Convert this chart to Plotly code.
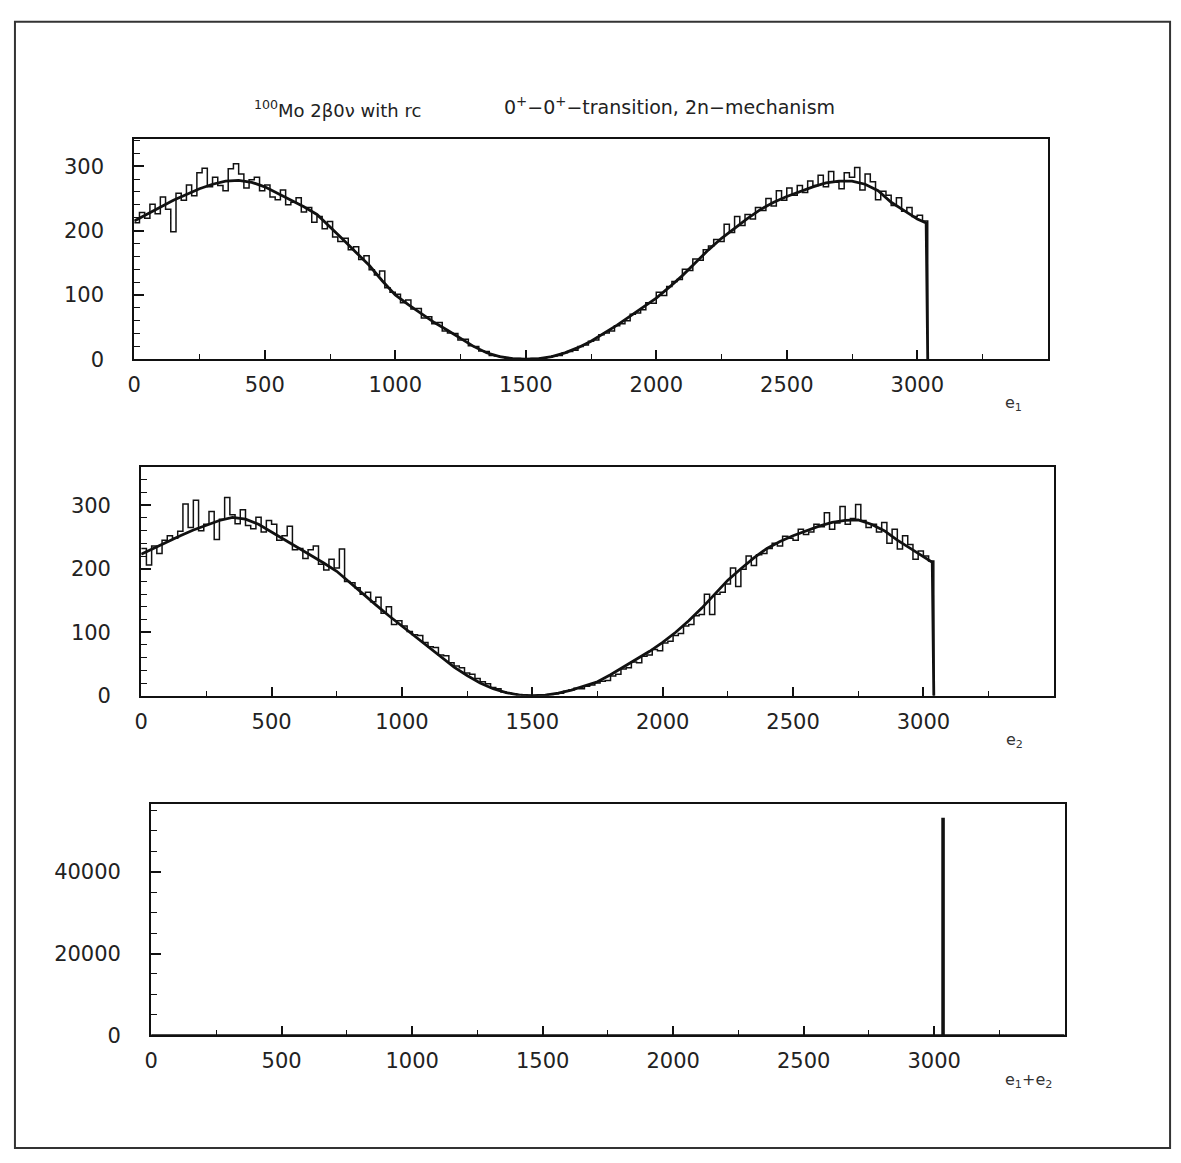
import plotly.graph_objects as go

# ---------------- data ----------------
BIN_WIDTH = 20  # keV

E1_COUNTS = [
    212, 228, 219, 241, 226, 252, 233, 198, 258, 247,
    271, 254, 290, 297, 268, 283, 270, 262, 296, 304,
    288, 266, 279, 283, 262, 271, 252, 248, 263, 240,
    244, 251, 229, 236, 213, 222, 203, 214, 190, 183,
    188, 170, 175, 155, 161, 139, 131, 137, 111, 104,
    101, 88, 92, 78, 79, 64, 66, 55, 57, 44,
    41, 40, 30, 31, 21, 20, 13, 12, 6, 5,
    3, 2, 1, 1, 0, 0, 1, 1, 2, 3,
    5, 6, 10, 12, 14, 20, 22, 28, 30, 38,
    41, 44, 52, 55, 60, 70, 72, 77, 88, 87,
    104, 99, 113, 121, 124, 140, 138, 156, 154, 170,
    176, 186, 183, 210, 197, 222, 208, 225, 218, 236,
    231, 250, 238, 262, 247, 266, 255, 270, 259, 277,
    270, 286, 268, 292, 275, 265, 290, 283, 298, 263,
    288, 276, 248, 261, 255, 239, 251, 230, 236, 222,
    224, 215,
]

E2_COUNTS = [
    232, 206, 236, 224, 245, 252, 248, 259, 302, 265,
    308, 260, 270, 290, 246, 278, 312, 285, 271, 293,
    268, 263, 281, 258, 276, 270, 245, 252, 267, 230,
    232, 216, 230, 236, 207, 198, 215, 201, 231, 180,
    178, 170, 160, 163, 148, 155, 130, 140, 112, 118,
    110, 101, 96, 95, 84, 77, 76, 64, 63, 52,
    47, 44, 36, 34, 27, 22, 19, 13, 11, 6,
    4, 3, 2, 1, 0, 0, 1, 1, 2, 3,
    4, 7, 9, 12, 11, 15, 17, 20, 23, 24,
    31, 34, 42, 44, 53, 52, 62, 64, 73, 71,
    83, 86, 95, 98, 110, 112, 126, 128, 160, 128,
    160, 163, 176, 201, 172, 199, 220, 205, 222, 224,
    232, 240, 236, 251, 248, 245, 262, 254, 258, 270,
    266, 288, 262, 272, 298, 270, 279, 301, 276, 265,
    270, 258, 273, 240, 262, 231, 252, 238, 215, 228,
    220, 212,
]

CURVE_X = [0, 50, 100, 150, 200, 250, 300, 350, 400, 450, 500, 550, 600, 650,
           700, 750, 800, 850, 900, 950, 1000, 1050, 1100, 1150, 1200, 1250,
           1300, 1350, 1400, 1450, 1500, 1550, 1600, 1650, 1700, 1750, 1800,
           1850, 1900, 1950, 2000, 2050, 2100, 2150, 2200, 2250, 2300, 2350,
           2400, 2450, 2500, 2550, 2600, 2650, 2700, 2750, 2800, 2850, 2900,
           2950, 3000, 3034, 3040]

E1_CURVE = [215, 226, 237, 247, 256, 265, 272, 277, 278, 275, 268, 258, 247, 237,
            225, 206, 186, 166, 146, 122, 100, 85, 71, 57, 45, 32,
            20, 10, 4, 1, 0, 1, 4, 10, 18, 28, 40,
            53, 67, 81, 95, 112, 130, 150, 170, 188, 204, 219,
            233, 244, 253, 261, 268, 274, 277, 277, 272, 262, 244,
            231, 218, 212, 0]

E2_CURVE = [223, 233, 243, 252, 261, 269, 276, 281, 278, 270, 258, 246, 233, 221,
            209, 196, 178, 160, 143, 126, 110, 93, 77, 61, 45, 32,
            20, 11, 5, 1, 0, 1, 4, 9, 15, 22, 33,
            45, 57, 70, 84, 100, 118, 138, 160, 182, 200, 217,
            232, 243, 252, 260, 267, 273, 276, 277, 270, 260, 245,
            232, 219, 210, 0]

SUM_EDGES = [0, 3031, 3037, 3500]
SUM_COUNTS = [0, 53000, 0]

X_TICKS = [0, 500, 1000, 1500, 2000, 2500, 3000]
XLABELS = ["e<sub>1</sub>", "e<sub>2</sub>", "e<sub>1</sub>+e<sub>2</sub>"]
TITLE_LEFT = "<sup>100</sup>Mo 2β0ν with rc"
TITLE_RIGHT = "0<sup>+</sup>−0<sup>+</sup>−transition, 2n−mechanism"

# ---------------- figure ----------------
W, H = 1181, 1163
FONT = "DejaVu Sans"
INK = "#111111"


def px(x):
    return x / W


def py(y):
    return 1 - y / H


def step_xy(counts, width):
    xs = [i * width for i in range(len(counts))]
    end = len(counts) * width
    xs = xs + [end, end]
    ys = list(counts) + [counts[-1], 0]
    return xs, ys


fig = go.Figure()

h1x, h1y = step_xy(E1_COUNTS, BIN_WIDTH)
h2x, h2y = step_xy(E2_COUNTS, BIN_WIDTH)

fig.add_trace(go.Scatter(x=h1x, y=h1y, mode="lines", line=dict(shape="hv", color=INK, width=1.5),
                         xaxis="x", yaxis="y", showlegend=False))
fig.add_trace(go.Scatter(x=CURVE_X, y=E1_CURVE, mode="lines", line=dict(color=INK, width=2.8),
                         xaxis="x", yaxis="y", showlegend=False))
fig.add_trace(go.Scatter(x=h2x, y=h2y, mode="lines", line=dict(shape="hv", color=INK, width=1.5),
                         xaxis="x2", yaxis="y2", showlegend=False))
fig.add_trace(go.Scatter(x=CURVE_X, y=E2_CURVE, mode="lines", line=dict(color=INK, width=2.8),
                         xaxis="x2", yaxis="y2", showlegend=False))
fig.add_trace(go.Scatter(x=SUM_EDGES, y=SUM_COUNTS + [0], mode="lines",
                         line=dict(shape="hv", color=INK, width=2),
                         fill="tozeroy", fillcolor=INK,
                         xaxis="x3", yaxis="y3", showlegend=False))

tickfont = dict(family=FONT, size=21, color="#222222")


def xaxis(domain, anchor):
    return dict(domain=domain, anchor=anchor, range=[0, 3500], tickvals=X_TICKS,
                ticks="inside", ticklen=9, tickwidth=1.5, tickcolor=INK,
                minor=dict(dtick=250, tick0=0, ticks="inside", ticklen=5, tickwidth=1.2, tickcolor=INK),
                showline=True, linecolor=INK, linewidth=2, mirror=True,
                showgrid=False, zeroline=False, tickfont=tickfont, ticklabelstandoff=6,
                fixedrange=True)


def yaxis(domain, anchor, rng, dtick, mdtick):
    return dict(domain=domain, anchor=anchor, range=rng, dtick=dtick, tick0=0,
                tickformat="d",
                ticks="inside", ticklen=10, tickwidth=1.5, tickcolor=INK,
                minor=dict(dtick=mdtick, tick0=0, ticks="inside", ticklen=6, tickwidth=1.2, tickcolor=INK),
                showline=True, linecolor=INK, linewidth=2, mirror=True,
                showgrid=False, zeroline=False, tickfont=tickfont, ticklabelstandoff=24,
                fixedrange=True)


fig.update_layout(
    width=W, height=H,
    margin=dict(l=0, r=0, t=0, b=0),
    paper_bgcolor="white", plot_bgcolor="white",
    showlegend=False,
    xaxis=xaxis([px(128), px(1047)], "y"),
    yaxis=yaxis([py(363), py(140)], "x", [0, 343], 100, 20),
    xaxis2=xaxis([px(135), px(1053)], "y2"),
    yaxis2=yaxis([py(703), py(472)], "x2", [0, 360], 100, 20),
    xaxis3=xaxis([px(145), px(1064)], "y3"),
    yaxis3=yaxis([py(1046), py(812)], "x3", [0, 56700], 20000, 5000),
)

ann = []
for label, (x, y) in zip(XLABELS, [(1012, 408), (1014, 748), (1028, 1092)]):
    ann.append(dict(x=px(x), y=py(y), xref="paper", yref="paper", text=label, showarrow=False,
                    xanchor="center", yanchor="middle", font=dict(family=FONT, size=16, color="#333333")))
ann.append(dict(x=px(246), y=py(110), xref="paper", yref="paper", text=TITLE_LEFT, showarrow=False,
                xanchor="left", yanchor="middle", font=dict(family=FONT, size=18, color="#222222")))
ann.append(dict(x=px(498), y=py(107), xref="paper", yref="paper", text=TITLE_RIGHT, showarrow=False,
                xanchor="left", yanchor="middle", font=dict(family=FONT, size=19, color="#222222")))
fig.update_layout(annotations=ann)

fig.add_shape(type="rect", xref="paper", yref="paper",
              x0=px(8), x1=px(1170), y0=py(1160), y1=py(22),
              line=dict(color="#333333", width=2))

fig.write_html(
    "out.html",
    config={"displayModeBar": False},
    post_script="document.body.style.margin='0';document.body.style.padding='0';"
                "document.body.style.overflow='hidden';",
)
